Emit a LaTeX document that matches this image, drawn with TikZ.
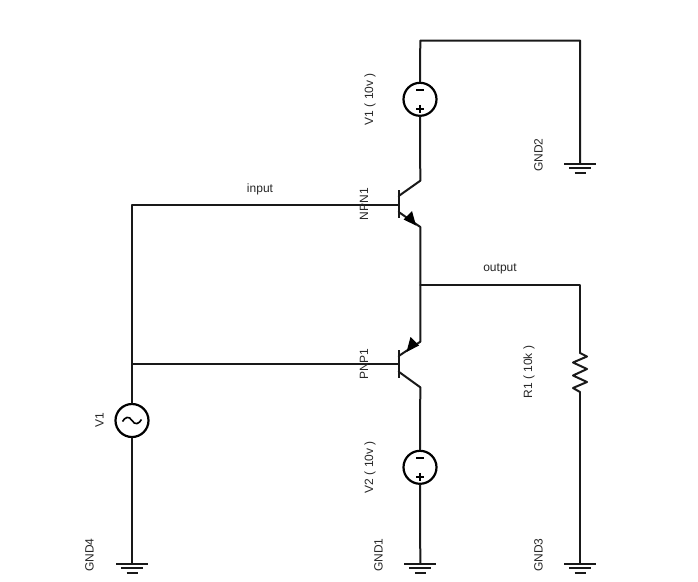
\documentclass[tikz,border=0pt]{standalone}
\usepackage{fontspec}
\setmainfont{Liberation Sans}
\tikzset{
  wire/.style={line width=2pt,black!90,line cap=round,line join=round},
  source/.style={circle,draw=black,line width=2.2pt,minimum size=33pt,inner sep=0pt,fill=white},
  rlabel/.style={rotate=90,font=\fontsize{12}{14}\selectfont,inner sep=0pt,text=black!85},
  hlabel/.style={font=\fontsize{12}{14}\selectfont,inner sep=0pt,text=black!85},
  gbar/.style={line width=2pt,black!90},
  tip/.style={fill=black,draw=none}
}
\begin{document}
\begin{tikzpicture}[x=1pt,y=-1pt]
\useasboundingbox (0,0) rectangle (698,581);
% junction / end coordinates
\coordinate (topL) at (420.3,40.5);
\coordinate (topR) at (580,40.5);
\coordinate (g2) at (580,163.5);
\coordinate (g1) at (420.3,563.5);
\coordinate (g3) at (580,563.5);
\coordinate (g4) at (132,563.5);
\coordinate (nc) at (420.3,180.7);
\coordinate (ne) at (420.3,227);
\coordinate (pe) at (420.3,341.7);
\coordinate (pc) at (420.3,387.3);
\coordinate (nb) at (398.7,204.5);
\coordinate (pb) at (398.7,364);
\coordinate (nct) at (398.7,196);
\coordinate (net) at (398.7,212);
\coordinate (pet) at (398.7,356);
\coordinate (pct) at (398.7,371.7);
\coordinate (out) at (420.3,284.5);
\coordinate (outR) at (580,284.5);
\coordinate (inL) at (132,204.5);
\coordinate (pbL) at (132,364);
\coordinate (rt) at (580,352);
\coordinate (rb) at (580,392);
% sources
\node[source] (vs1) at (420,99.3) {};
\node[source] (vs2) at (420,467.3) {};
\node[source] (ac) at (132,420.5) {};
% wires
\draw[wire] (vs1.north) -- (topL) -- (topR) -- (g2);
\draw[wire] (vs1.south) -- (nc) -- (nct);
\draw[wire] (net) -- (ne) -- (pe) -- (pet);
\draw[wire] (pct) -- (pc) -- (vs2.north);
\draw[wire] (vs2.south) -- (g1);
\draw[wire] (out) -- (outR) -- (rt);
\draw[wire] (rb) -- (g3);
\draw[wire] (rt) -- ++(0,1) -- ++(7,3.5) -- ++(-14,6) -- ++(14,6.5) -- ++(-14,6.5) -- ++(14,6.5) -- ++(-14,6) -- (rb);
\draw[wire] (nb) -- (inL) -- (ac.north);
\draw[wire] (pb) -- (pbL);
\draw[wire] (ac.south) -- (g4);
% transistor base bars
\draw[line width=2.4pt,black!90] (398.7,190) -- (398.7,217.5);
\draw[line width=2.4pt,black!90] (398.7,350) -- (398.7,377.5);
% emitter arrowheads
\fill[tip] (416,225.5) -- (403.5,219.5) -- (412,211) -- cycle;
\fill[tip] (406.5,352) -- (419,345.5) -- (410.5,337) -- cycle;
% grounds
\foreach \c in {g1,g2,g3,g4}{
  \draw[gbar] ([xshift=-16pt]\c) -- ([xshift=16pt]\c);
  \draw[gbar] ([xshift=-11pt,yshift=-4.5pt]\c) -- ([xshift=11pt,yshift=-4.5pt]\c);
  \draw[gbar] ([xshift=-5.5pt,yshift=-9pt]\c) -- ([xshift=5.5pt,yshift=-9pt]\c);
}
% source symbols
\foreach \s in {vs1,vs2}{
  \draw[line width=2pt,black] ([xshift=-4pt,yshift=9pt]\s.center) -- ([xshift=4pt,yshift=9pt]\s.center);
  \draw[line width=2pt,black] ([xshift=-4pt,yshift=-9.5pt]\s.center) -- ([xshift=4pt,yshift=-9.5pt]\s.center);
  \draw[line width=2pt,black] ([yshift=-5.5pt]\s.center) -- ([yshift=-13.5pt]\s.center);
}
\draw[line width=1.6pt,black] ([xshift=-9.5pt,yshift=-1pt]ac.center) .. controls +(2.5,-4.5) and +(-3,-5) .. (ac.center) .. controls +(3,5) and +(-2.5,4.5) .. ([xshift=9.5pt,yshift=1pt]ac.center);
% labels
\node[hlabel] (linput) at (260,189) {input};
\node[hlabel] (loutput) at (500,269) {output};
\node[rlabel] (lv1) at (370,99) {V1 ( 10v )};
\node[rlabel] (lv2) at (370,467) {V2 ( 10v )};
\node[rlabel] (lnpn) at (364,204) {NPN1};
\node[rlabel] (lpnp) at (364,364) {PNP1};
\node[rlabel] (lr1) at (529,372) {R1 ( 10k )};
\node[rlabel] (lac) at (99.5,420.5) {V1};
\node[rlabel] (lg2) at (538.5,155) {GND2};
\node[rlabel] (lg1) at (378.5,555) {GND1};
\node[rlabel] (lg3) at (538.5,555) {GND3};
\node[rlabel] (lg4) at (89.5,555) {GND4};
\end{tikzpicture}
\end{document}
